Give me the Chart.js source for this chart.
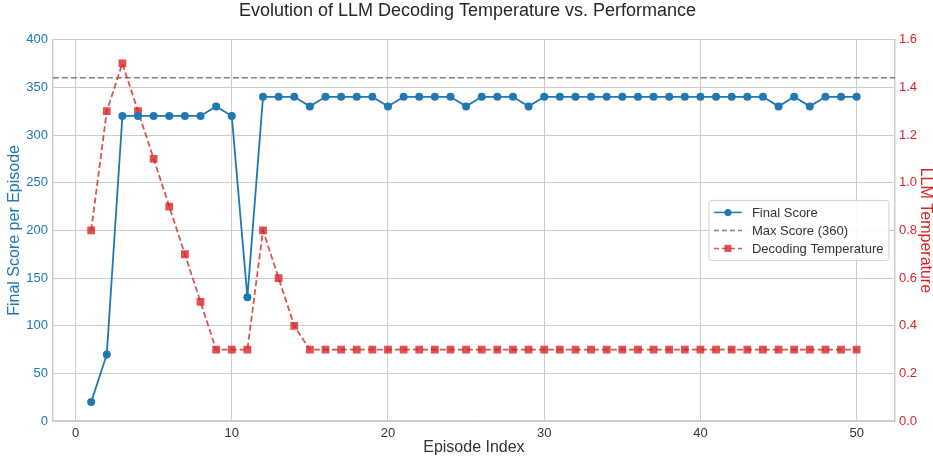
<!DOCTYPE html>
<html>
<head>
<meta charset="utf-8">
<script src="https://cdn.jsdelivr.net/npm/chart.js@4"></script>
<style>
  html, body { margin: 0; padding: 0; background: #fff; }
  #wrap { width: 933px; height: 457px; }
</style>
</head>
<body>
<div id="wrap"><canvas id="chart" width="933" height="457"></canvas></div>
<script>
// Données
const episodes = [];
for (let i = 1; i <= 50; i++) episodes.push(i);

const finalScores = [20, 70, 320, 320, 320, 320, 320, 320, 330, 320,
    130, 340, 340, 340, 330, 340, 340, 340, 340, 330,
    340, 340, 340, 340, 330, 340, 340, 340, 330, 340,
    340, 340, 340, 340, 340, 340, 340, 340, 340, 340,
    340, 340, 340, 340, 330, 340, 330, 340, 340, 340];

const temperatures = [0.8, 1.3, 1.5, 1.3, 1.1, 0.9, 0.7, 0.5, 0.3, 0.3,
    0.3, 0.8, 0.6, 0.4, 0.3, 0.3, 0.3, 0.3, 0.3, 0.3,
    0.3, 0.3, 0.3, 0.3, 0.3, 0.3, 0.3, 0.3, 0.3, 0.3,
    0.3, 0.3, 0.3, 0.3, 0.3, 0.3, 0.3, 0.3, 0.3, 0.3,
    0.3, 0.3, 0.3, 0.3, 0.3, 0.3, 0.3, 0.3, 0.3, 0.3];

const maxScore = 360;

const BLUE = '#1f77b4';
const RED = 'rgba(214, 39, 40, 0.8)';
const RED_TXT = '#d62728';
const FONT = "'Liberation Sans', Arial, sans-serif";

// Ligne horizontale du score max
const maxLinePlugin = {
    id: 'maxLine',
    beforeDatasetsDraw(chart) {
        const { ctx, chartArea, scales } = chart;
        const y = scales.y.getPixelForValue(maxScore);
        ctx.save();
        ctx.strokeStyle = '#808080';
        ctx.lineWidth = 1.5;
        ctx.setLineDash([6, 3]);
        ctx.beginPath();
        ctx.moveTo(chartArea.left, y);
        ctx.lineTo(chartArea.right, y);
        ctx.stroke();
        ctx.restore();
    }
};

// Légende dessinée à la main (center right, façon matplotlib)
const legendPlugin = {
    id: 'customLegend',
    afterDraw(chart) {
        const { ctx, chartArea } = chart;
        const items = [
            { label: 'Final Score', color: BLUE, dash: [], marker: 'circle' },
            { label: 'Max Score (360)', color: '#808080', dash: [5, 3], marker: null },
            { label: 'Decoding Temperature', color: RED, dash: [5, 3], marker: 'rect' }
        ];
        const w = 180, h = 60;
        const x0 = chartArea.right - 6 - w;
        const y0 = (chartArea.top + chartArea.bottom) / 2 - h / 2;
        ctx.save();
        ctx.fillStyle = 'rgba(255,255,255,0.85)';
        ctx.strokeStyle = '#d0d0d0';
        ctx.lineWidth = 1;
        ctx.beginPath();
        ctx.roundRect(x0, y0, w, h, 3);
        ctx.fill();
        ctx.stroke();
        ctx.font = '13px ' + FONT;
        ctx.textBaseline = 'middle';
        items.forEach((it, i) => {
            const y = y0 + 12 + i * 18;
            ctx.strokeStyle = it.color;
            ctx.lineWidth = 1.5;
            ctx.setLineDash(it.dash);
            ctx.beginPath();
            ctx.moveTo(x0 + 5, y);
            ctx.lineTo(x0 + 33, y);
            ctx.stroke();
            ctx.setLineDash([]);
            ctx.fillStyle = it.color;
            if (it.marker === 'circle') {
                ctx.beginPath();
                ctx.arc(x0 + 19, y, 3.5, 0, Math.PI * 2);
                ctx.fill();
            } else if (it.marker === 'rect') {
                ctx.fillRect(x0 + 15.5, y - 3.5, 7, 7);
            }
            ctx.fillStyle = '#333';
            ctx.fillText(it.label, x0 + 43, y + 1);
        });
        ctx.restore();
    }
};

const ctx = document.getElementById('chart').getContext('2d');
new Chart(ctx, {
    type: 'line',
    data: {
        datasets: [
            {
                label: 'Final Score',
                data: episodes.map((e, i) => ({ x: e, y: finalScores[i] })),
                yAxisID: 'y',
                borderColor: BLUE,
                backgroundColor: BLUE,
                borderWidth: 1.8,
                pointRadius: 4,
                pointStyle: 'circle',
                pointBorderWidth: 0,
                tension: 0
            },
            {
                label: 'Decoding Temperature',
                data: episodes.map((e, i) => ({ x: e, y: temperatures[i] })),
                yAxisID: 'y1',
                borderColor: RED,
                backgroundColor: RED,
                borderWidth: 1.8,
                borderDash: [6, 3],
                pointStyle: 'rect',
                pointRadius: 5.5,
                pointBorderWidth: 0,
                tension: 0
            }
        ]
    },
    options: {
        responsive: false,
        animation: false,
        layout: { padding: { left: 2, right: 0, top: 0, bottom: 0 } },
        plugins: {
            legend: { display: false },
            tooltip: { enabled: false },
            title: {
                display: true,
                text: 'Evolution of LLM Decoding Temperature vs. Performance',
                color: '#262626',
                font: { family: FONT, size: 18, weight: 'normal' },
                padding: { top: 0, bottom: 18 }
            }
        },
        scales: {
            x: {
                type: 'linear',
                min: -1.45,
                max: 52.45,
                ticks: {
                    stepSize: 10,
                    includeBounds: false,
                    color: '#333',
                    font: { family: FONT, size: 13 },
                    padding: 4,
                    maxRotation: 0
                },
                grid: { color: '#cccccc', lineWidth: 1, drawTicks: false },
                border: { color: '#cccccc', width: 1.5 },
                title: {
                    display: true,
                    text: 'Episode Index',
                    color: '#333',
                    font: { family: FONT, size: 16 },
                    padding: { top: -7, bottom: 0 }
                }
            },
            y: {
                position: 'left',
                min: 0,
                max: 400,
                ticks: {
                    stepSize: 50,
                    color: BLUE,
                    font: { family: FONT, size: 13 },
                    padding: 5
                },
                grid: { color: '#cccccc', lineWidth: 1, drawTicks: false },
                border: { color: '#cccccc', width: 1.5 },
                title: {
                    display: true,
                    text: 'Final Score per Episode',
                    color: BLUE,
                    font: { family: FONT, size: 16 },
                    padding: { top: 3, bottom: -3 }
                }
            },
            y1: {
                position: 'right',
                min: 0,
                max: 1.6,
                ticks: {
                    stepSize: 0.2,
                    color: RED_TXT,
                    font: { family: FONT, size: 13 },
                    padding: 4,
                    callback: v => v.toFixed(1)
                },
                grid: { display: false, drawTicks: false },
                border: { color: '#cccccc', width: 1.5 },
                title: {
                    display: true,
                    text: 'LLM Temperature',
                    color: RED_TXT,
                    font: { family: FONT, size: 16, lineHeight: 1 },
                    padding: { top: 0, bottom: -4 }
                }
            }
        }
    },
    plugins: [maxLinePlugin, legendPlugin]
});
</script>
</body>
</html>
